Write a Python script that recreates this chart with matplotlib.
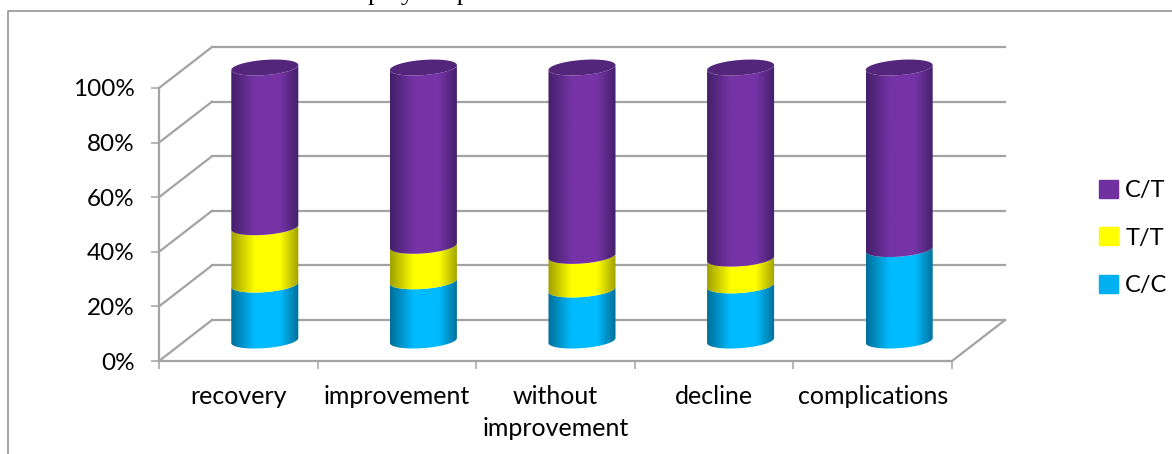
import numpy as np
import matplotlib
matplotlib.use("Agg")
import matplotlib.pyplot as plt
from matplotlib.colors import LinearSegmentedColormap
from matplotlib.patches import PathPatch, Patch, Rectangle
from matplotlib.path import Path

W, H = 1172, 454

categories = ["recovery", "improvement", "without\nimprovement", "decline", "complications"]
cc = [20.5, 21.7, 18.7, 20.2, 33.5]
tt = [21, 13, 12.3, 9.8, 0]
ct = [58.5, 65.3, 69, 70, 66.5]
y_ticks = [0, 20, 40, 60, 80, 100]

GRID = "#a3a3a3"
# oblique "3D" look: how far the back wall is shifted from the front plane
DX, DY = 0.334, 15.0
RX, F = 0.201, 0.195

plt.rcParams["font.family"] = ["Lato", "DejaVu Sans"]
fig = plt.figure(figsize=(W / 100, H / 100), dpi=100)
ax = fig.add_axes([159 / W, 1 - 361 / H, (952 - 159) / W, (361 - 88) / H])
ax.patch.set_alpha(0)


def ramp(color, edge):
    # dark at both edges, brightest just right of the middle
    return LinearSegmentedColormap.from_list(
        "c", [(0, edge), (0.35, color), (0.55, color), (0.72, color), (1, edge)])


def arc(cx, cy, start, stop):
    t = np.linspace(start, stop, 60)
    return (cx + RX * np.cos(t) + F * DX * np.sin(t), cy + F * DY * np.sin(t))


def segment(cx, lo, hi, cmap):
    t0 = np.arctan2(F * DX, RX)
    half = np.hypot(RX, F * DX)
    xb, yb = arc(cx, lo, t0 + np.pi, t0 + 2 * np.pi)
    xt, yt = arc(cx, hi, t0 + 2 * np.pi, t0 + np.pi)
    verts = np.column_stack([np.r_[xb, xt], np.r_[yb, yt]])
    patch = PathPatch(Path(np.vstack([verts, verts[0]])), fc="none", ec="none", transform=ax.transData)
    ax.add_patch(patch)
    im = ax.imshow(np.linspace(0, 1, 128)[None, :], cmap=cmap, aspect="auto", zorder=3,
                   extent=(cx - half, cx + half, lo - 2 * F * DY, hi + 2 * F * DY))
    # top of the cylinders sticks out above the axes box
    im.set_clip_box(fig.bbox)
    im.set_clip_path(patch)


# walls and floor
for v in y_ticks:
    ax.plot([0, DX], [v, v + DY], color=GRID, lw=1.6, clip_on=False, zorder=1)
    ax.plot([DX, 5 + DX], [v + DY, v + DY], color=GRID, lw=1.6, clip_on=False, zorder=1)
ax.plot([5, 5 + DX], [0, DY], color=GRID, lw=1.6, clip_on=False, zorder=1)

series = [(cc, "#00BBFF", "#006f99"), (tt, "#FFFF00", "#a0a000"), (ct, "#7633A6", "#43206a")]
for i in range(len(categories)):
    cx = i + 0.5 + DX / 2
    base = DY / 2
    for values, color, edge in series:
        if values[i] > 0:
            segment(cx, base, base + values[i], ramp(color, edge))
        base += values[i]
    xe, ye = arc(cx, base, 0, 2 * np.pi)
    ax.fill(xe, ye, color="#53267C", lw=0, zorder=4, clip_on=False)

ax.set_xlim(0, 5)
ax.set_ylim(0, 100)
for side in ["top", "right"]:
    ax.spines[side].set_visible(False)
for side in ["left", "bottom"]:
    ax.spines[side].set_color(GRID)
    ax.spines[side].set_linewidth(1.6)
ax.set_yticks(y_ticks)
ax.set_yticklabels([f"{v}%" for v in y_ticks], fontsize=17.5)
ax.set_xticks(range(6))
ax.set_xticklabels([])
ax.set_xticks(np.arange(5) + 0.5, categories, minor=True, fontsize=18, linespacing=1.5, va="top")
ax.tick_params(axis="both", which="major", color=GRID, width=1.1, length=5.5)
ax.tick_params(axis="y", pad=12)
ax.tick_params(axis="x", which="minor", length=0, pad=17)

handles = [Patch(color="#7030A0"), Patch(color="#FFFF00"), Patch(color="#00B0F0")]
fig.legend(handles, ["C/T", "T/T", "C/C"], loc="center left", bbox_to_anchor=(1078 / W, 1 - 238 / H),
           frameon=False, fontsize=17, handlelength=0.8, handleheight=0.8, handletextpad=0.3,
           labelspacing=1.12)

# outer chart frame runs off the crop on the right and bottom
fig.add_artist(Rectangle((8 / W, -0.1), 1.2, 1.1 - 11 / H, transform=fig.transFigure,
                         fc="none", ec="#8c8c8c", lw=1.1))
# page caption above the chart, cut off by the crop
fig.text(368 / W, 1.0, "polymorphism", family="Liberation Serif", fontsize=19, va="baseline", color="black")

fig.savefig("out.png", dpi=100)
